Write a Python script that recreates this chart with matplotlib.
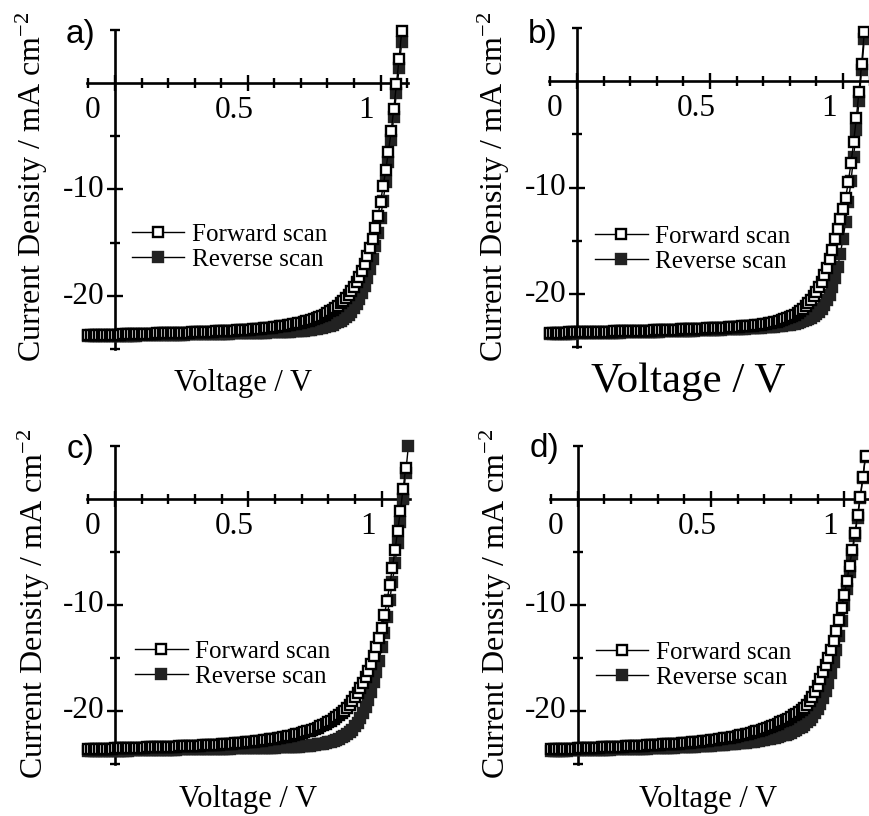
import matplotlib
matplotlib.use("Agg")
import matplotlib.pyplot as plt
from matplotlib.ticker import FixedLocator, NullFormatter

plt.rcParams['font.family'] = 'Liberation Serif'
plt.rcParams['mathtext.fontset'] = 'custom'
plt.rcParams['mathtext.rm'] = 'Liberation Serif'
plt.rcParams['mathtext.it'] = 'Liberation Serif:italic'
plt.rcParams['mathtext.bf'] = 'Liberation Serif:bold'

# ---------------------------------------------------------------- data
# applied bias (V), common sweep grid
voltage = [
    -0.10, -0.09, -0.08, -0.07, -0.06, -0.05, -0.04, -0.03, -0.02, -0.01,
    0.00, 0.01, 0.02, 0.03, 0.04, 0.05, 0.06, 0.07, 0.08, 0.09,
    0.10, 0.11, 0.12, 0.13, 0.14, 0.15, 0.16, 0.17, 0.18, 0.19,
    0.20, 0.21, 0.22, 0.23, 0.24, 0.25, 0.26, 0.27, 0.28, 0.29,
    0.30, 0.31, 0.32, 0.33, 0.34, 0.35, 0.36, 0.37, 0.38, 0.39,
    0.40, 0.41, 0.42, 0.43, 0.44, 0.45, 0.46, 0.47, 0.48, 0.49,
    0.50, 0.51, 0.52, 0.53, 0.54, 0.55, 0.56, 0.57, 0.58, 0.59,
    0.60, 0.61, 0.62, 0.63, 0.64, 0.65, 0.66, 0.67, 0.68, 0.69,
    0.70, 0.71, 0.72, 0.73, 0.74, 0.75, 0.76, 0.77, 0.78, 0.79,
    0.80, 0.81, 0.82, 0.83, 0.84, 0.85, 0.86, 0.87, 0.88, 0.89,
    0.90, 0.91, 0.92, 0.93, 0.94, 0.95, 0.96, 0.97, 0.98, 0.99,
    1.00, 1.01, 1.02, 1.03, 1.04, 1.05, 1.06, 1.07, 1.08, 1.09, 1.10,
]

# current density (mA cm-2) for each device
a_forward = [
    -23.70, -23.69, -23.68, -23.68, -23.67, -23.66, -23.66, -23.65, -23.64, -23.64,
    -23.63, -23.62, -23.62, -23.61, -23.60, -23.60, -23.59, -23.58, -23.58, -23.57,
    -23.56, -23.56, -23.55, -23.54, -23.53, -23.53, -23.52, -23.51, -23.51, -23.50,
    -23.49, -23.48, -23.48, -23.47, -23.46, -23.45, -23.44, -23.44, -23.43, -23.42,
    -23.41, -23.40, -23.39, -23.38, -23.37, -23.36, -23.35, -23.34, -23.33, -23.32,
    -23.31, -23.30, -23.29, -23.27, -23.26, -23.25, -23.23, -23.22, -23.20, -23.19,
    -23.17, -23.15, -23.13, -23.11, -23.09, -23.07, -23.05, -23.02, -22.99, -22.96,
    -22.93, -22.90, -22.86, -22.82, -22.78, -22.74, -22.70, -22.65, -22.60, -22.55,
    -22.50, -22.44, -22.38, -22.31, -22.24, -22.16, -22.07, -21.97, -21.86, -21.74,
    -21.60, -21.45, -21.29, -21.11, -20.91, -20.70, -20.46, -20.19, -19.89, -19.55,
    -19.15, -18.70, -18.20, -17.62, -16.98, -16.28, -15.50, -14.62, -13.64, -12.50,
    -11.15, -9.70, -8.15, -6.45, -4.55, -2.45, -0.10, 2.30, 4.90,
]
a_reverse = [
    -23.80, -23.79, -23.79, -23.78, -23.78, -23.77, -23.77, -23.76, -23.76, -23.75,
    -23.75, -23.74, -23.74, -23.73, -23.73, -23.72, -23.72, -23.71, -23.71, -23.70,
    -23.70, -23.69, -23.69, -23.68, -23.68, -23.67, -23.67, -23.66, -23.66, -23.65,
    -23.65, -23.64, -23.64, -23.63, -23.63, -23.62, -23.62, -23.61, -23.61, -23.60,
    -23.60, -23.59, -23.59, -23.58, -23.58, -23.57, -23.56, -23.56, -23.55, -23.55,
    -23.54, -23.54, -23.53, -23.53, -23.52, -23.51, -23.51, -23.50, -23.50, -23.49,
    -23.48, -23.48, -23.47, -23.46, -23.46, -23.45, -23.44, -23.43, -23.42, -23.41,
    -23.40, -23.39, -23.38, -23.37, -23.36, -23.35, -23.34, -23.32, -23.31, -23.29,
    -23.27, -23.25, -23.22, -23.19, -23.16, -23.12, -23.08, -23.03, -22.98, -22.92,
    -22.85, -22.77, -22.68, -22.58, -22.46, -22.32, -22.16, -21.97, -21.75, -21.48,
    -21.15, -20.76, -20.30, -19.75, -19.10, -18.35, -17.48, -16.48, -15.35, -14.08,
    -12.65, -11.05, -9.30, -7.40, -5.35, -3.20, -0.95, 1.40, 3.85,
]
b_forward = [
    -23.65, -23.64, -23.64, -23.63, -23.63, -23.62, -23.62, -23.61, -23.61, -23.60,
    -23.60, -23.59, -23.59, -23.58, -23.58, -23.57, -23.57, -23.56, -23.56, -23.55,
    -23.55, -23.54, -23.54, -23.53, -23.52, -23.52, -23.51, -23.51, -23.50, -23.49,
    -23.49, -23.48, -23.47, -23.47, -23.46, -23.45, -23.45, -23.44, -23.43, -23.42,
    -23.42, -23.41, -23.40, -23.39, -23.38, -23.37, -23.36, -23.35, -23.34, -23.33,
    -23.32, -23.31, -23.30, -23.29, -23.28, -23.27, -23.26, -23.25, -23.24, -23.23,
    -23.22, -23.21, -23.20, -23.19, -23.18, -23.16, -23.15, -23.14, -23.12, -23.11,
    -23.09, -23.07, -23.05, -23.03, -23.01, -22.99, -22.96, -22.93, -22.90, -22.87,
    -22.83, -22.79, -22.75, -22.70, -22.65, -22.59, -22.53, -22.46, -22.38, -22.29,
    -22.19, -22.07, -21.93, -21.77, -21.58, -21.37, -21.13, -20.86, -20.56, -20.22,
    -19.82, -19.36, -18.83, -18.22, -17.52, -16.73, -15.84, -14.88, -13.92, -12.98,
    -12.00, -10.95, -9.50, -7.70, -5.75, -3.50, -1.00, 1.60, 4.60,
]
b_reverse = [
    -23.75, -23.74, -23.74, -23.73, -23.73, -23.72, -23.72, -23.71, -23.71, -23.70,
    -23.70, -23.69, -23.69, -23.68, -23.68, -23.67, -23.67, -23.66, -23.66, -23.65,
    -23.65, -23.64, -23.64, -23.63, -23.63, -23.62, -23.62, -23.61, -23.60, -23.60,
    -23.59, -23.59, -23.58, -23.58, -23.57, -23.56, -23.56, -23.55, -23.55, -23.54,
    -23.53, -23.53, -23.52, -23.51, -23.51, -23.50, -23.49, -23.48, -23.48, -23.47,
    -23.46, -23.45, -23.45, -23.44, -23.43, -23.42, -23.41, -23.40, -23.40, -23.39,
    -23.38, -23.37, -23.36, -23.35, -23.34, -23.33, -23.32, -23.31, -23.30, -23.29,
    -23.28, -23.27, -23.25, -23.24, -23.23, -23.21, -23.20, -23.18, -23.17, -23.15,
    -23.14, -23.12, -23.10, -23.08, -23.06, -23.04, -23.01, -22.98, -22.95, -22.91,
    -22.87, -22.82, -22.77, -22.71, -22.64, -22.56, -22.47, -22.36, -22.23, -22.08,
    -21.90, -21.68, -21.40, -21.05, -20.60, -20.05, -19.35, -18.50, -17.45, -16.20,
    -14.80, -13.20, -11.40, -9.40, -7.10, -4.60, -1.90, 1.00, 3.90,
]
c_forward = [
    -23.60, -23.59, -23.58, -23.58, -23.57, -23.56, -23.56, -23.55, -23.54, -23.54,
    -23.53, -23.52, -23.52, -23.51, -23.50, -23.50, -23.49, -23.48, -23.47, -23.47,
    -23.46, -23.45, -23.44, -23.44, -23.43, -23.42, -23.41, -23.40, -23.40, -23.39,
    -23.38, -23.37, -23.36, -23.35, -23.34, -23.33, -23.32, -23.31, -23.30, -23.29,
    -23.28, -23.27, -23.26, -23.25, -23.24, -23.22, -23.21, -23.20, -23.18, -23.17,
    -23.14, -23.12, -23.11, -23.09, -23.07, -23.05, -23.03, -23.01, -22.99, -22.97,
    -22.94, -22.91, -22.88, -22.85, -22.82, -22.79, -22.75, -22.72, -22.68, -22.64,
    -22.60, -22.56, -22.52, -22.47, -22.42, -22.37, -22.32, -22.26, -22.20, -22.14,
    -22.07, -22.00, -21.92, -21.84, -21.75, -21.66, -21.56, -21.45, -21.33, -21.20,
    -21.05, -20.90, -20.74, -20.57, -20.39, -20.19, -19.96, -19.70, -19.41, -19.08,
    -18.71, -18.30, -17.85, -17.35, -16.80, -16.20, -15.53, -14.79, -13.97, -13.07,
    -12.15, -10.95, -9.60, -8.10, -6.50, -4.80, -3.00, -1.10, 0.90, 2.95,
]
c_reverse = [
    -23.80, -23.79, -23.79, -23.78, -23.78, -23.77, -23.77, -23.76, -23.76, -23.76,
    -23.75, -23.75, -23.74, -23.74, -23.73, -23.73, -23.72, -23.72, -23.71, -23.71,
    -23.70, -23.70, -23.69, -23.69, -23.68, -23.68, -23.67, -23.67, -23.66, -23.66,
    -23.65, -23.65, -23.64, -23.64, -23.63, -23.63, -23.62, -23.62, -23.61, -23.61,
    -23.60, -23.60, -23.59, -23.59, -23.58, -23.58, -23.57, -23.57, -23.56, -23.56,
    -23.55, -23.55, -23.54, -23.54, -23.53, -23.53, -23.52, -23.52, -23.51, -23.51,
    -23.50, -23.50, -23.49, -23.49, -23.48, -23.48, -23.47, -23.47, -23.46, -23.46,
    -23.45, -23.44, -23.43, -23.42, -23.41, -23.40, -23.39, -23.38, -23.37, -23.35,
    -23.33, -23.31, -23.29, -23.26, -23.23, -23.20, -23.16, -23.12, -23.07, -23.02,
    -22.96, -22.89, -22.81, -22.72, -22.61, -22.49, -22.35, -22.18, -21.98, -21.75,
    -21.45, -21.10, -20.68, -20.18, -19.60, -18.93, -18.17, -17.31, -16.35, -15.28,
    -13.95, -12.60, -11.13, -9.55, -7.86, -6.06, -4.15, -2.13, 0.00, 2.45, 5.00,
]
d_forward = [
    -23.62, -23.61, -23.60, -23.59, -23.59, -23.58, -23.57, -23.56, -23.55, -23.54,
    -23.53, -23.52, -23.51, -23.50, -23.49, -23.48, -23.47, -23.46, -23.45, -23.44,
    -23.43, -23.42, -23.41, -23.40, -23.39, -23.38, -23.37, -23.36, -23.34, -23.33,
    -23.32, -23.31, -23.30, -23.28, -23.27, -23.26, -23.25, -23.23, -23.22, -23.21,
    -23.19, -23.18, -23.16, -23.15, -23.13, -23.12, -23.10, -23.09, -23.07, -23.05,
    -23.02, -23.00, -22.98, -22.96, -22.94, -22.91, -22.89, -22.86, -22.83, -22.80,
    -22.77, -22.74, -22.71, -22.67, -22.63, -22.59, -22.55, -22.51, -22.46, -22.41,
    -22.36, -22.31, -22.25, -22.19, -22.13, -22.06, -21.99, -21.92, -21.84, -21.76,
    -21.68, -21.59, -21.50, -21.40, -21.30, -21.19, -21.08, -20.96, -20.84, -20.71,
    -20.57, -20.42, -20.26, -20.09, -19.90, -19.68, -19.41, -19.08, -18.68, -18.20,
    -17.62, -17.00, -16.36, -15.69, -14.98, -14.22, -13.40, -12.48, -11.45, -10.30,
    -9.05, -7.72, -6.30, -4.80, -3.22, -1.55, 0.22, 2.10, 4.10,
]
d_reverse = [
    -23.76, -23.75, -23.75, -23.74, -23.74, -23.73, -23.73, -23.72, -23.72, -23.71,
    -23.71, -23.70, -23.70, -23.69, -23.69, -23.68, -23.67, -23.67, -23.66, -23.66,
    -23.65, -23.64, -23.64, -23.63, -23.63, -23.62, -23.61, -23.61, -23.60, -23.59,
    -23.59, -23.58, -23.57, -23.56, -23.56, -23.55, -23.54, -23.53, -23.53, -23.52,
    -23.51, -23.50, -23.49, -23.48, -23.47, -23.46, -23.45, -23.44, -23.43, -23.42,
    -23.41, -23.40, -23.38, -23.37, -23.36, -23.34, -23.33, -23.31, -23.30, -23.28,
    -23.26, -23.25, -23.23, -23.21, -23.19, -23.17, -23.15, -23.13, -23.11, -23.08,
    -23.06, -23.03, -23.01, -22.98, -22.95, -22.92, -22.89, -22.86, -22.82, -22.78,
    -22.70, -22.65, -22.60, -22.55, -22.50, -22.44, -22.38, -22.31, -22.23, -22.14,
    -22.04, -21.92, -21.79, -21.64, -21.47, -21.28, -21.06, -20.81, -20.52, -20.18,
    -19.78, -19.30, -18.75, -18.10, -17.35, -16.45, -15.40, -14.20, -12.90, -11.50,
    -10.00, -8.45, -6.85, -5.20, -3.50, -1.75, 0.05, 1.95, 4.00,
]

x_tick_values = [0, 0.5, 1]
x_tick_labels = ['0', '0.5', '1']
y_tick_values = [-10, -20]
y_tick_labels = ['-10', '-20']
series_labels = ['Forward scan', 'Reverse scan']
panel_tags = ['a)', 'b)', 'c)', 'd)']
x_title = 'Voltage / V'
y_title = 'Current Density / mA cm$^{-2}$'

# ---------------------------------------------------------------- layout (pixels)
W, H = 869, 816
XLIM = (-0.105, 1.105)
YLIM = (-25, 5)

panels = [
    dict(fwd=a_forward, rev=a_reverse, x0=115.0, y0=83.0, xs=265.5, ys=10.65,
         tag_xy=(66, 43), ylab_xy=(32, 187), xlab_xy=(243, 384), xlab_fs=22,
         leg_xy=(0.064, -15.4)),
    dict(fwd=b_forward, rev=b_reverse, x0=577.0, y0=81.0, xs=266.0, ys=10.65,
         tag_xy=(528, 43), ylab_xy=(494, 187), xlab_xy=(688, 382), xlab_fs=31,
         leg_xy=(0.068, -15.8)),
    dict(fwd=c_forward, rev=c_reverse, x0=115.0, y0=499.0, xs=266.7, ys=10.6,
         tag_xy=(67, 458), ylab_xy=(34, 604), xlab_xy=(248, 800), xlab_fs=22,
         leg_xy=(0.075, -15.6)),
    dict(fwd=d_forward, rev=d_reverse, x0=577.7, y0=499.0, xs=266.5, ys=10.6,
         tag_xy=(530, 457), ylab_xy=(496, 604), xlab_xy=(708, 800), xlab_fs=22,
         leg_xy=(0.068, -15.7)),
]

TICK_FS = 22.5
LEG_FS = 18
LABEL_FS = 23
TAG_FS = 24
AX_LW = 1.9
FILL = '#222222'

fig = plt.figure(figsize=(W / 100, H / 100), dpi=100)


def px(x, y):
    return x / W, 1 - y / H


for p, tag in zip(panels, panel_tags):
    left_px = p['x0'] + XLIM[0] * p['xs']
    right_px = p['x0'] + XLIM[1] * p['xs']
    top_px = p['y0'] - YLIM[1] * p['ys']
    bot_px = p['y0'] - YLIM[0] * p['ys']
    ax = fig.add_axes([left_px / W, 1 - bot_px / H,
                       (right_px - left_px) / W, (bot_px - top_px) / H])
    ax.set_xlim(*XLIM)
    ax.set_ylim(*YLIM)
    ax.patch.set_alpha(0)

    # crossing axes through the origin
    for side in ('top', 'right'):
        ax.spines[side].set_visible(False)
    ax.spines['left'].set_position(('data', 0))
    ax.spines['bottom'].set_position(('data', 0))
    for side in ('left', 'bottom'):
        ax.spines[side].set_linewidth(AX_LW)

    ax.xaxis.set_major_locator(FixedLocator(x_tick_values))
    ax.xaxis.set_minor_locator(FixedLocator(
        [-0.1, 0.1, 0.2, 0.3, 0.4, 0.6, 0.7, 0.8, 0.9, 1.1]))
    ax.yaxis.set_major_locator(FixedLocator(y_tick_values))
    ax.yaxis.set_minor_locator(FixedLocator([-25, -15, -5, 5]))
    for axis in (ax.xaxis, ax.yaxis):
        axis.set_major_formatter(NullFormatter())
        axis.set_minor_formatter(NullFormatter())
    ax.tick_params(which='major', direction='inout', length=11, width=1.7)
    ax.tick_params(which='minor', direction='inout', length=6.5, width=1.7)

    for v, s, dx in zip(x_tick_values, x_tick_labels, [-22, -14, -14]):
        ax.annotate(s, xy=(v, 0), xycoords='data', xytext=(dx, -28),
                    textcoords='offset pixels', ha='center', va='center',
                    fontsize=TICK_FS, annotation_clip=False)
    for v, s in zip(y_tick_values, y_tick_labels):
        ax.annotate(s, xy=(0, v), xycoords='data', xytext=(-11, 0),
                    textcoords='offset pixels', ha='right', va='center',
                    fontsize=TICK_FS, annotation_clip=False)

    rev_line, = ax.plot(voltage[:len(p['rev'])], p['rev'], '-s', color='black',
                        lw=1.0, ms=7.2, mew=1.7, mfc=FILL, mec=FILL,
                        zorder=3, clip_on=False)
    fwd_line, = ax.plot(voltage[:len(p['fwd'])], p['fwd'], '-s', color='black',
                        lw=1.0, ms=7.2, mew=1.7, mfc='white', mec='black',
                        zorder=4, clip_on=False)

    ax.legend([fwd_line, rev_line], series_labels, loc='center left',
              bbox_to_anchor=p['leg_xy'], bbox_transform=ax.transData,
              frameon=False, fontsize=LEG_FS, handlelength=2.1,
              handletextpad=0.3, labelspacing=0.1, borderpad=0,
              borderaxespad=0)

    fig.text(*px(*p['tag_xy']), tag, family='Liberation Sans',
             fontsize=TAG_FS, ha='left', va='baseline')
    fig.text(*px(*p['ylab_xy']), y_title, rotation=90, fontsize=LABEL_FS,
             ha='center', va='center')
    fig.text(*px(*p['xlab_xy']), x_title, fontsize=p['xlab_fs'],
             ha='center', va='center')

fig.savefig('out.png', dpi=100)
